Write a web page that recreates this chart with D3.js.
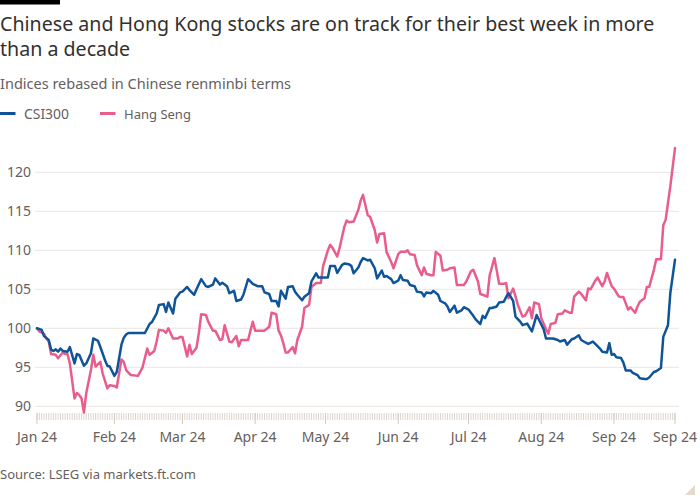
<!DOCTYPE html>
<html><head><meta charset="utf-8">
<script src="https://cdn.jsdelivr.net/npm/d3@7"></script>
<style>
html,body{margin:0;padding:0;background:#fff;}
svg{display:block;}
text{font-family:"Noto Sans",Lato,sans-serif;}
</style></head><body>
<svg id="chart" width="700" height="500"></svg>
<script>
const titleLines = ["Chinese and Hong Kong stocks are on track for their best week in more", "than a decade"];
const subtitle = "Indices rebased in Chinese renminbi terms";
const source = "Source: LSEG via markets.ft.com";
const seriesNames = ["CSI300", "Hang Seng"];
const seriesColors = ["#0f5499", "#e95d8c"];
const yTicks = [90, 95, 100, 105, 110, 115, 120];
const xTickDates = ["2023-12-30","2024-02-01","2024-03-01","2024-04-01","2024-05-01","2024-06-01","2024-07-01","2024-08-01","2024-09-01","2024-09-27"];
const xTickLabels = ["Jan 24","Feb 24","Mar 24","Apr 24","May 24","Jun 24","Jul 24","Aug 24","Sep 24","Sep 24"];

const csiDates = ["2023-12-30","2024-01-01","2024-01-02","2024-01-04","2024-01-05","2024-01-06","2024-01-07","2024-01-08","2024-01-09","2024-01-10","2024-01-12","2024-01-13","2024-01-15","2024-01-16","2024-01-17","2024-01-19","2024-01-20","2024-01-22","2024-01-23","2024-01-25","2024-01-26","2024-01-28","2024-01-29","2024-01-30","2024-02-01","2024-02-02","2024-02-04","2024-02-05","2024-02-06","2024-02-07","2024-02-14","2024-02-16","2024-02-17","2024-02-19","2024-02-20","2024-02-22","2024-02-23","2024-02-24","2024-02-26","2024-02-27","2024-02-29","2024-03-01","2024-03-03","2024-03-04","2024-03-06","2024-03-07","2024-03-09","2024-03-11","2024-03-12","2024-03-14","2024-03-15","2024-03-17","2024-03-18","2024-03-20","2024-03-21","2024-03-23","2024-03-24","2024-03-26","2024-03-27","2024-03-29","2024-03-31","2024-04-02","2024-04-04","2024-04-05","2024-04-07","2024-04-08","2024-04-10","2024-04-11","2024-04-12","2024-04-14","2024-04-15","2024-04-17","2024-04-18","2024-04-19","2024-04-21","2024-04-22","2024-04-24","2024-04-25","2024-04-27","2024-04-28","2024-05-02","2024-05-03","2024-05-05","2024-05-06","2024-05-08","2024-05-09","2024-05-11","2024-05-12","2024-05-13","2024-05-15","2024-05-16","2024-05-17","2024-05-19","2024-05-20","2024-05-22","2024-05-23","2024-05-25","2024-05-26","2024-05-27","2024-05-29","2024-05-30","2024-06-01","2024-06-02","2024-06-03","2024-06-05","2024-06-06","2024-06-08","2024-06-09","2024-06-11","2024-06-12","2024-06-13","2024-06-15","2024-06-16","2024-06-18","2024-06-19","2024-06-21","2024-06-22","2024-06-23","2024-06-25","2024-06-26","2024-06-28","2024-06-29","2024-07-01","2024-07-02","2024-07-03","2024-07-04","2024-07-06","2024-07-07","2024-07-08","2024-07-10","2024-07-11","2024-07-13","2024-07-14","2024-07-16","2024-07-17","2024-07-18","2024-07-20","2024-07-21","2024-07-23","2024-07-24","2024-07-26","2024-07-27","2024-07-28","2024-07-30","2024-07-31","2024-08-02","2024-08-03","2024-08-04","2024-08-06","2024-08-08","2024-08-09","2024-08-11","2024-08-12","2024-08-14","2024-08-15","2024-08-17","2024-08-18","2024-08-20","2024-08-21","2024-08-23","2024-08-24","2024-08-26","2024-08-27","2024-08-29","2024-08-30","2024-08-31","2024-09-01","2024-09-02","2024-09-04","2024-09-05","2024-09-06","2024-09-08","2024-09-09","2024-09-11","2024-09-12","2024-09-14","2024-09-15","2024-09-16","2024-09-18","2024-09-19","2024-09-21","2024-09-22","2024-09-24","2024-09-25","2024-09-27"];
const csiValues = [100.0,99.8,99.0,98.5,97.3,97.1,97.3,97.0,97.4,97.1,97.0,97.6,95.5,96.7,96.6,95.2,95.5,96.8,98.7,98.4,97.6,95.9,95.2,95.1,93.9,94.4,97.9,98.8,99.2,99.4,99.4,100.55,100.8,101.9,103.0,103.1,102.1,103.3,101.9,103.8,104.6,104.7,105.3,104.9,104.3,105.0,106.3,105.4,105.3,105.6,106.4,105.6,105.85,105.4,104.5,104.8,103.5,103.7,104.3,106.3,105.7,105.4,105.4,104.6,104.4,103.5,103.5,102.8,104.8,103.8,105.3,105.4,104.7,104.3,103.6,104.05,104.5,106.0,107.05,106.5,106.5,108.0,108.0,107.1,108.1,108.3,108.2,108.0,107.05,107.8,108.5,109.0,108.7,108.8,107.7,106.4,107.4,106.6,106.7,106.3,105.8,106.1,106.8,106.2,106.1,105.55,105.4,104.7,104.6,104.1,104.6,104.5,104.8,104.3,103.5,103.2,102.8,102.1,102.9,102.0,102.3,102.7,102.4,102.0,101.6,101.15,100.55,101.6,101.3,102.6,102.6,102.8,103.3,103.4,104.0,104.5,103.5,101.5,100.85,100.4,100.6,100.1,99.6,101.7,101.1,99.9,98.7,98.7,98.7,98.5,98.3,98.5,97.9,98.6,98.7,99.1,98.5,98.15,98.0,98.3,98.0,97.4,97.0,96.9,98.1,96.6,96.7,96.3,96.2,95.6,94.6,94.6,94.3,94.0,93.6,93.5,93.5,93.7,94.4,94.5,94.9,98.9,100.4,104.5,108.8];

const hsDates = ["2023-12-30","2023-12-31","2024-01-02","2024-01-03","2024-01-04","2024-01-05","2024-01-07","2024-01-08","2024-01-10","2024-01-11","2024-01-12","2024-01-13","2024-01-15","2024-01-16","2024-01-17","2024-01-18","2024-01-19","2024-01-20","2024-01-22","2024-01-23","2024-01-24","2024-01-26","2024-01-27","2024-01-29","2024-01-30","2024-02-01","2024-02-02","2024-02-04","2024-02-05","2024-02-06","2024-02-08","2024-02-11","2024-02-12","2024-02-13","2024-02-15","2024-02-16","2024-02-18","2024-02-19","2024-02-20","2024-02-22","2024-02-23","2024-02-24","2024-02-26","2024-02-28","2024-02-29","2024-03-01","2024-03-03","2024-03-04","2024-03-05","2024-03-07","2024-03-08","2024-03-09","2024-03-11","2024-03-12","2024-03-14","2024-03-15","2024-03-17","2024-03-18","2024-03-19","2024-03-21","2024-03-22","2024-03-24","2024-03-25","2024-03-26","2024-03-28","2024-03-29","2024-03-31","2024-04-01","2024-04-03","2024-04-05","2024-04-07","2024-04-08","2024-04-10","2024-04-11","2024-04-12","2024-04-13","2024-04-14","2024-04-15","2024-04-17","2024-04-18","2024-04-19","2024-04-21","2024-04-22","2024-04-24","2024-04-25","2024-04-27","2024-04-29","2024-04-30","2024-05-02","2024-05-03","2024-05-04","2024-05-06","2024-05-07","2024-05-09","2024-05-10","2024-05-11","2024-05-13","2024-05-15","2024-05-16","2024-05-17","2024-05-19","2024-05-20","2024-05-22","2024-05-23","2024-05-24","2024-05-26","2024-05-27","2024-05-29","2024-05-30","2024-06-01","2024-06-02","2024-06-04","2024-06-05","2024-06-06","2024-06-08","2024-06-09","2024-06-11","2024-06-12","2024-06-13","2024-06-15","2024-06-16","2024-06-17","2024-06-19","2024-06-20","2024-06-22","2024-06-23","2024-06-25","2024-06-26","2024-06-27","2024-06-29","2024-06-30","2024-07-02","2024-07-03","2024-07-05","2024-07-06","2024-07-07","2024-07-09","2024-07-10","2024-07-12","2024-07-13","2024-07-14","2024-07-16","2024-07-17","2024-07-18","2024-07-20","2024-07-21","2024-07-22","2024-07-24","2024-07-25","2024-07-27","2024-07-28","2024-07-29","2024-07-31","2024-08-01","2024-08-03","2024-08-04","2024-08-05","2024-08-07","2024-08-08","2024-08-10","2024-08-11","2024-08-13","2024-08-14","2024-08-15","2024-08-17","2024-08-18","2024-08-20","2024-08-21","2024-08-22","2024-08-24","2024-08-25","2024-08-27","2024-08-28","2024-08-29","2024-08-31","2024-09-01","2024-09-03","2024-09-04","2024-09-05","2024-09-07","2024-09-08","2024-09-10","2024-09-11","2024-09-12","2024-09-14","2024-09-15","2024-09-16","2024-09-18","2024-09-19","2024-09-21","2024-09-22","2024-09-23","2024-09-25","2024-09-27"];
const hsValues = [100.0,99.6,99.3,98.7,98.3,96.7,96.6,96.15,96.9,96.7,96.7,95.5,91.0,91.7,91.45,91.0,89.2,91.7,94.65,96.6,95.1,95.7,94.2,92.3,92.7,92.6,92.4,96.0,95.7,94.65,94.0,93.9,94.4,95.0,97.4,96.6,97.1,98.3,99.8,99.7,99.4,100.0,98.7,98.7,98.9,98.9,96.4,97.9,96.7,97.5,99.4,101.8,101.7,100.85,99.7,99.7,98.5,98.6,100.4,98.3,98.2,99.0,97.7,98.5,98.5,98.5,100.85,99.7,99.7,99.7,100.2,102.0,101.8,99.7,99.1,98.1,96.9,96.9,97.6,96.8,98.5,100.2,102.6,103.0,105.3,105.8,105.8,108.0,110.0,110.7,110.3,109.2,110.3,113.0,113.8,113.6,113.7,115.2,116.4,117.1,114.5,114.3,112.6,111.0,112.1,112.2,109.8,108.5,107.7,109.5,109.8,109.8,110.0,109.5,109.4,108.1,106.8,107.8,107.0,106.8,106.8,109.8,109.3,107.4,107.5,107.7,107.8,105.55,105.55,105.55,106.0,107.3,107.5,106.0,104.4,104.3,104.05,106.8,109.0,107.4,105.7,105.7,105.8,103.85,105.1,104.1,103.0,101.5,101.6,102.7,101.3,103.3,103.1,101.3,99.9,99.3,100.55,100.7,101.8,101.9,102.3,102.0,102.0,104.05,104.7,104.4,103.6,105.1,105.0,106.1,106.5,105.4,106.0,107.1,105.4,105.1,104.1,104.0,104.0,102.4,102.7,102.0,102.8,103.4,103.85,105.3,105.3,107.5,108.85,108.85,113.2,113.9,118.2,123.1];

const parse = d3.utcParse("%Y-%m-%d");
const svg = d3.select("#chart");
const W = 700, H = 500;
const textDark = "#33302e", textGrey = "#66605c";

svg.append("rect").attr("width", W).attr("height", H).attr("fill", "#ffffff");
svg.append("rect").attr("x", 0).attr("y", 0).attr("width", 60).attr("height", 4.5).attr("fill", "#000");

function fit(sel, target) {
  const n = sel.node();
  const w = n.getComputedTextLength();
  const fs = parseFloat(sel.attr("font-size"));
  if (w > 0) sel.attr("font-size", (fs * target / w).toFixed(2));
  return sel;
}

const t1 = svg.append("text").attr("x", 0).attr("y", 31).attr("font-size", 20).attr("fill", textDark).text(titleLines[0]);
const t1fs = parseFloat(fit(t1, 655).attr("font-size"));
svg.append("text").attr("x", 0).attr("y", 56).attr("font-size", t1fs).attr("fill", textDark).text(titleLines[1]);

fit(svg.append("text").attr("x", 0).attr("y", 88.5).attr("font-size", 15).attr("fill", textGrey).text(subtitle), 291);

// legend
const legX = [0, 100];
const legTextW = [45, 67];
seriesNames.forEach((nm, i) => {
  svg.append("line").attr("x1", legX[i]).attr("x2", legX[i] + 15.5).attr("y1", 113.5).attr("y2", 113.5)
    .attr("stroke", seriesColors[i]).attr("stroke-width", 3);
  fit(svg.append("text").attr("x", legX[i] + 24).attr("y", 119.3).attr("font-size", 14).attr("fill", textGrey).text(nm), legTextW[i]);
});

const x = d3.scaleUtc().domain([parse(xTickDates[0]), parse(xTickDates[xTickDates.length - 1])]).range([37, 675]);
const y = d3.scaleLinear().domain([90, 120]).range([406.3, 172.3]);

// gridlines + y labels
const gy = svg.append("g");
yTicks.forEach(v => {
  gy.append("line").attr("x1", 35).attr("x2", 679).attr("y1", y(v)).attr("y2", y(v))
    .attr("stroke", "#ebe5df").attr("stroke-width", 1);
  gy.append("text").attr("x", 31).attr("y", y(v)).attr("dy", "0.35em").attr("text-anchor", "end")
    .attr("font-size", 14).attr("fill", textGrey).text(v);
});

// x ticks: daily minor ticks, major at labelled dates
const days = d3.utcDay.range(x.domain()[0], d3.utcDay.offset(x.domain()[1], 1));
const gx = svg.append("g");
gx.selectAll("line.minor").data(days).join("line").attr("class", "minor")
  .attr("x1", d => x(d)).attr("x2", d => x(d)).attr("y1", 413).attr("y2", 420)
  .attr("stroke", "#ddd5cd").attr("stroke-width", 1);
xTickDates.forEach((ds, i) => {
  const xv = x(parse(ds));
  gx.append("line").attr("x1", xv).attr("x2", xv).attr("y1", 413).attr("y2", 424)
    .attr("stroke", "#d3c9bf").attr("stroke-width", 1);
  gx.append("text").attr("x", xv).attr("y", 441.5).attr("text-anchor", "middle")
    .attr("font-size", 14).attr("fill", textGrey).text(xTickLabels[i]);
});

// lines
const line = d3.line().x(d => x(d[0])).y(d => y(d[1]));
const hsData = hsDates.map((d, i) => [parse(d), hsValues[i]]);
const csiData = csiDates.map((d, i) => [parse(d), csiValues[i]]);
svg.append("path").datum(hsData).attr("d", line).attr("fill", "none").attr("stroke", seriesColors[1])
  .attr("stroke-width", 2.5).attr("stroke-linejoin", "round").attr("stroke-linecap", "round");
svg.append("path").datum(csiData).attr("d", line).attr("fill", "none").attr("stroke", seriesColors[0])
  .attr("stroke-width", 2.5).attr("stroke-linejoin", "round").attr("stroke-linecap", "round");

fit(svg.append("text").attr("x", 0).attr("y", 479).attr("font-size", 13).attr("fill", textGrey).text(source), 196);

svg.append("path").attr("d", "M685,495 L695,485 L695,495 Z").attr("fill", "#e6d8cb");
</script>
</body></html>
